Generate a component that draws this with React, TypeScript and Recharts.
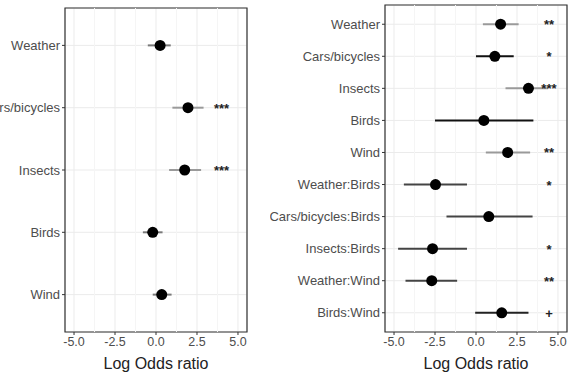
import * as React from "react";
import {
  CartesianGrid,
  ErrorBar,
  ReferenceArea,
  ReferenceLine,
  Scatter,
  ScatterChart,
  XAxis,
  YAxis,
} from "recharts";

// left panel: main effects only
const LEFT_TERMS = ["Weather", "Cars/bicycles", "Insects", "Birds", "Wind"];
const LEFT_EST = [0.25, 1.95, 1.75, -0.2, 0.35];
const LEFT_LOW = [-0.5, 1.0, 0.8, -0.8, -0.2];
const LEFT_HIGH = [0.9, 2.9, 2.75, 0.4, 0.95];
const LEFT_SIG = ["", "***", "***", "", ""];
const LEFT_TONE = ["#7a7a7a", "#9a9a9a", "#9a9a9a", "#7a7a7a", "#7a7a7a"];

// right panel: with interactions
const RIGHT_TERMS = [
  "Weather",
  "Cars/bicycles",
  "Insects",
  "Birds",
  "Wind",
  "Weather:Birds",
  "Cars/bicycles:Birds",
  "Insects:Birds",
  "Weather:Wind",
  "Birds:Wind",
];
const RIGHT_EST = [1.5, 1.15, 3.2, 0.48, 1.93, -2.47, 0.78, -2.65, -2.7, 1.57];
const RIGHT_LOW = [0.42, 0.0, 1.8, -2.5, 0.6, -4.4, -1.8, -4.75, -4.3, -0.05];
const RIGHT_HIGH = [2.6, 2.3, 4.4, 3.5, 3.3, -0.55, 3.45, -0.55, -1.15, 3.2];
const RIGHT_SIG = ["**", "*", "***", "", "**", "*", "", "*", "**", "+"];
const RIGHT_TONE = [
  "#9a9a9a",
  "#111111",
  "#9a9a9a",
  "#111111",
  "#9a9a9a",
  "#444444",
  "#444444",
  "#444444",
  "#444444",
  "#222222",
];

const X_TICKS = [-5, -2.5, 0, 2.5, 5];
const X_MINOR = [-3.75, -1.25, 1.25, 3.75];
const X_DOMAIN: [number, number] = [-5.55, 5.55];

const FONT = "'Liberation Sans', Arial, sans-serif";

type Row = { term: string; y: number; est: number; err: [number, number]; tone: string };

function buildRows(terms: string[], est: number[], low: number[], high: number[], tone: string[]): Row[] {
  return terms.map((term, i) => ({
    term,
    y: i + 1,
    est: est[i],
    err: [est[i] - low[i], high[i] - est[i]],
    tone: tone[i],
  }));
}

const Dot = (props: any) => <circle cx={props.cx} cy={props.cy} r={5.5} fill="#000" />;

const Stars = (props: any) =>
  props.payload.sig ? (
    <text
      x={props.cx}
      y={props.cy + 5}
      textAnchor="middle"
      fontSize={13}
      fontWeight="bold"
      fontFamily={FONT}
      fill="#222"
    >
      {props.payload.sig}
    </text>
  ) : null;

function Panel({
  terms,
  est,
  low,
  high,
  sig,
  tone,
  starX,
  width,
  height,
  yAxisWidth,
  top,
  right,
}: {
  terms: string[];
  est: number[];
  low: number[];
  high: number[];
  sig: string[];
  tone: string[];
  starX: number;
  width: number;
  height: number;
  yAxisWidth: number;
  top: number;
  right: number;
}) {
  const rows = buildRows(terms, est, low, high, tone);
  const tones = Array.from(new Set(tone));
  // stars sit in a column at a fixed log-odds position
  const starData = terms.map((t, i) => ({ est: starX, y: i + 1, sig: sig[i] }));
  const n = terms.length;
  const yDomain: [number, number] = [0.4, n + 0.6];

  return (
    <ScatterChart
      width={width}
      height={height}
      margin={{ top, right, bottom: 0, left: 0 }}
      style={{ overflow: "visible" }}
    >
      <CartesianGrid stroke="#ebebeb" strokeWidth={1} />
      {X_MINOR.map((v) => (
        <ReferenceLine key={v} x={v} stroke="#f5f5f5" strokeWidth={1} />
      ))}
      <XAxis
        type="number"
        dataKey="est"
        domain={X_DOMAIN}
        ticks={X_TICKS}
        allowDataOverflow
        tickFormatter={(v: number) => v.toFixed(1)}
        axisLine={false}
        tickLine={{ stroke: "#333" }}
        tickSize={3}
        tick={{ fill: "#4d4d4d", fontSize: 12.5, fontFamily: FONT }}
        height={41}
        label={{
          value: "Log Odds ratio",
          position: "insideBottom",
          offset: 4,
          fill: "#222",
          fontSize: 16,
          fontFamily: FONT,
        }}
      />
      <YAxis
        type="number"
        dataKey="y"
        domain={yDomain}
        ticks={terms.map((_, i) => i + 1)}
        interval={0}
        reversed
        allowDataOverflow
        tickFormatter={(v: number) => terms[v - 1] ?? ""}
        axisLine={false}
        tickLine={{ stroke: "#333" }}
        tickSize={3}
        tick={{ fill: "#4d4d4d", fontSize: 13, fontFamily: FONT }}
        width={yAxisWidth}
      />
      <ReferenceArea
        x1={X_DOMAIN[0]}
        x2={X_DOMAIN[1]}
        y1={yDomain[0]}
        y2={yDomain[1]}
        fill="none"
        stroke="#333"
        strokeWidth={1.2}
        ifOverflow="visible"
      />
      {tones.map((c) => (
        <Scatter
          key={c}
          data={rows.filter((r) => r.tone === c)}
          dataKey="est"
          shape={Dot}
          isAnimationActive={false}
        >
          <ErrorBar
            dataKey="err"
            direction="x"
            width={0}
            stroke={c}
            strokeWidth={2}
            isAnimationActive={false}
          />
        </Scatter>
      ))}
      <Scatter data={starData} dataKey="est" shape={Stars} isAnimationActive={false} />
    </ScatterChart>
  );
}

export default function App() {
  return (
    <div
      style={{
        position: "absolute",
        left: 0,
        top: 0,
        width: 573,
        height: 373,
        background: "#fff",
        overflow: "hidden",
      }}
    >
      <div style={{ position: "absolute", left: 0, top: 0 }}>
        <Panel
          terms={LEFT_TERMS}
          est={LEFT_EST}
          low={LEFT_LOW}
          high={LEFT_HIGH}
          sig={LEFT_SIG}
          tone={LEFT_TONE}
          starX={4.0}
          width={260}
          height={373}
          yAxisWidth={65}
          top={8}
          right={13}
        />
      </div>
      <div style={{ position: "absolute", left: 270, top: 0 }}>
        <Panel
          terms={RIGHT_TERMS}
          est={RIGHT_EST}
          low={RIGHT_LOW}
          high={RIGHT_HIGH}
          sig={RIGHT_SIG}
          tone={RIGHT_TONE}
          starX={4.45}
          width={303}
          height={373}
          yAxisWidth={115}
          top={5}
          right={6}
        />
      </div>
    </div>
  );
}
